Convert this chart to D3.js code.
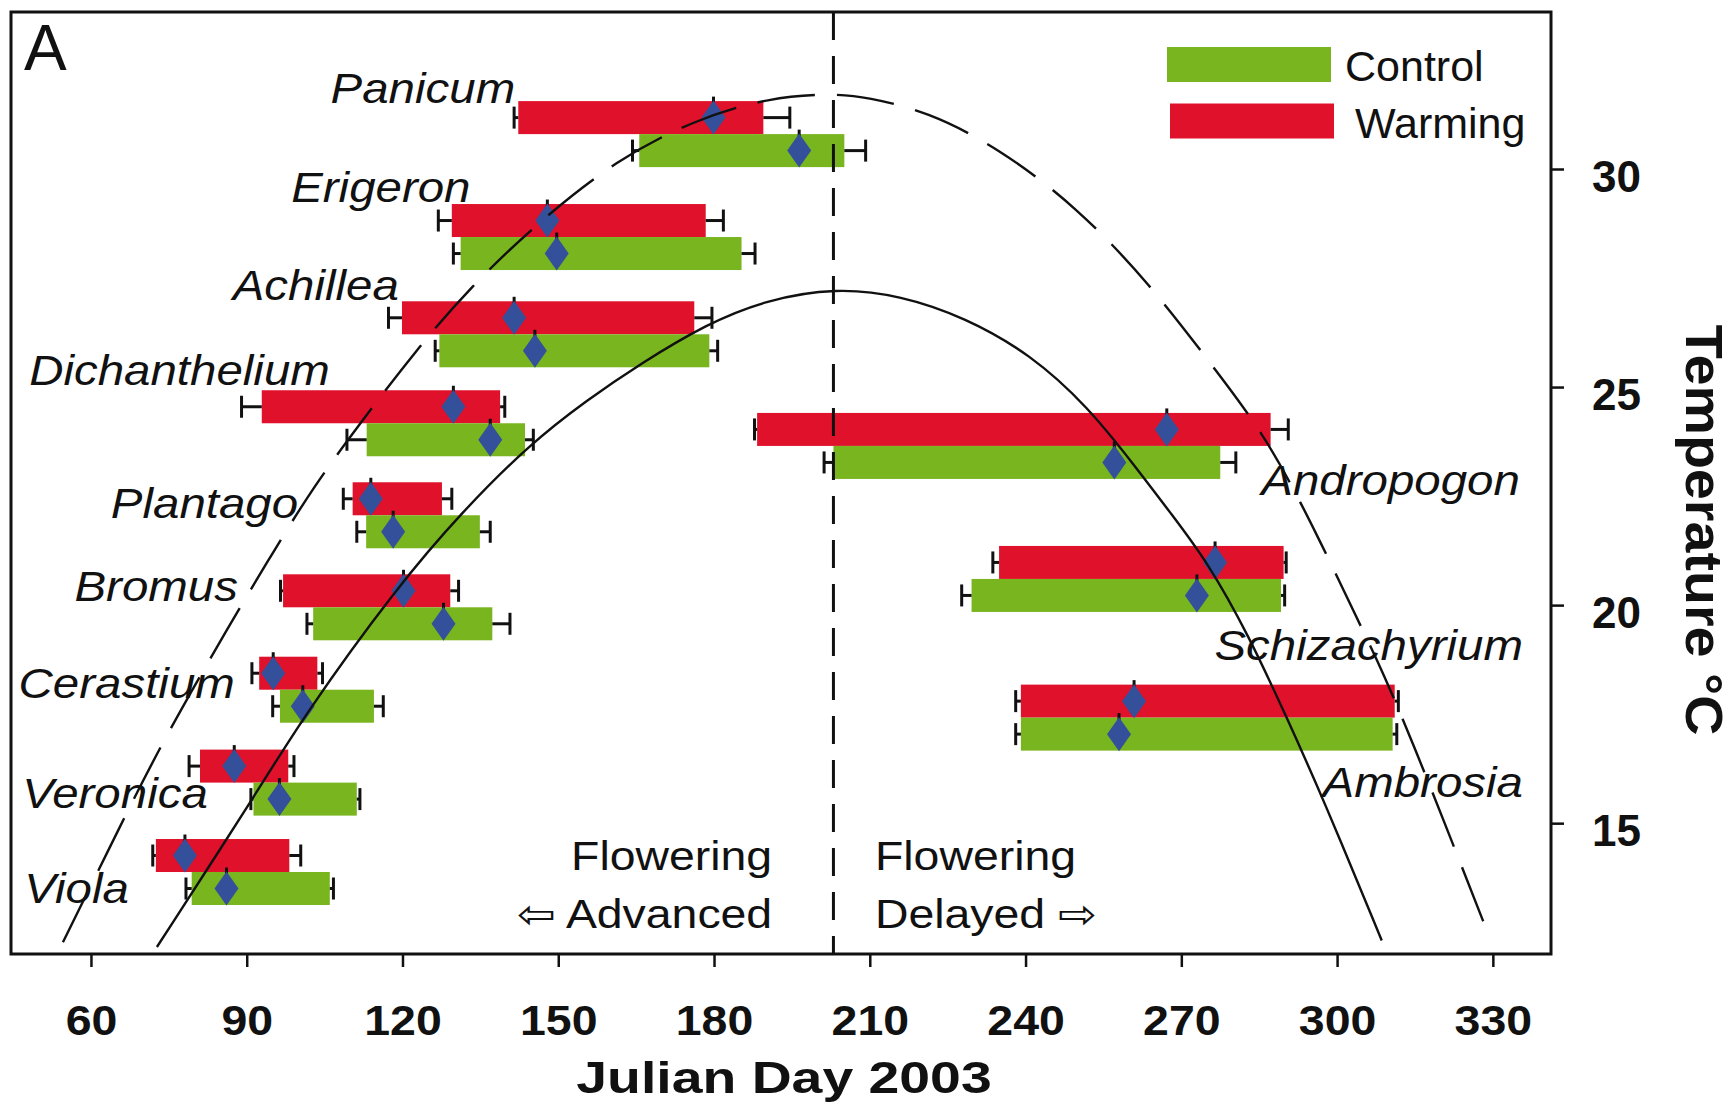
<!DOCTYPE html>
<html>
<head>
<meta charset="utf-8">
<script src="https://cdn.jsdelivr.net/npm/d3@7"></script>
<style>
  html, body { margin: 0; padding: 0; background: #fff; }
  svg { display: block; }
</style>
</head>
<body>
<svg id="chart" width="1735" height="1110"></svg>
<script>
// Flowering periods (Julian day 2003) of twelve prairie species under
// warming vs. control, drawn over seasonal temperature curves.

const species = ["Panicum", "Erigeron", "Achillea", "Dichanthelium", "Plantago", "Bromus",
                 "Cerastium", "Veronica", "Viola", "Andropogon", "Schizachyrium", "Ambrosia"];

// vertical placement of each species pair, in units of the temperature axis
const rowTemp = [30.80, 28.44, 26.21, 24.17, 22.06, 19.95, 18.06, 15.93, 13.88, 23.65, 20.60, 17.42];

// Warming treatment: flowering start / end, their error limits, and mean flowering day
const warmStart = [142.3, 129.5, 119.9, 92.9, 110.4, 97.0, 92.4, 81.0, 72.5, 188.3, 234.9, 239.1];
const warmEnd   = [189.5, 178.4, 176.2, 138.8, 127.6, 129.2, 103.6, 98.0, 98.2, 287.2, 289.7, 311.1];
const warmLow   = [141.5, 126.9, 117.3, 89.0, 108.6, 96.5, 91.0, 78.9, 71.9, 187.8, 233.7, 238.1];
const warmHigh  = [194.6, 181.8, 179.6, 139.7, 129.5, 130.8, 104.6, 99.1, 100.4, 290.6, 290.2, 311.8];
const warmMean  = [179.9, 147.9, 141.5, 129.8, 113.9, 120.2, 95.1, 87.6, 78.1, 267.2, 276.5, 260.9];

// Control treatment
const ctrlStart = [165.6, 131.2, 127.1, 113.1, 113.0, 102.8, 96.4, 91.3, 79.4, 203.0, 229.6, 239.1];
const ctrlEnd   = [205.1, 185.3, 179.1, 143.6, 134.9, 137.3, 114.5, 111.2, 106.0, 277.5, 289.2, 310.7];
const ctrlLow   = [164.3, 129.8, 126.3, 109.3, 111.2, 101.6, 95.0, 90.8, 78.3, 201.2, 227.7, 238.1];
const ctrlHigh  = [209.2, 187.9, 180.7, 145.2, 136.9, 140.7, 116.3, 111.8, 106.7, 280.5, 289.9, 311.5];
const ctrlMean  = [196.4, 149.7, 145.5, 136.9, 118.2, 127.9, 100.8, 96.3, 86.1, 257.1, 273.0, 258.0];

// Species name anchors (day, temperature) – names are right-aligned at these points
const labelDay  = [141.7, 133.1, 119.3, 106.0, 99.9, 88.3, 87.7, 82.5, 67.3, 335.2, 335.8, 335.8];
const labelTemp = [31.51, 29.24, 26.99, 25.04, 21.99, 20.09, 17.86, 15.34, 13.16, 22.52, 18.73, 15.59];

// Mean air temperature through the season (solid curve)
const meanDay  = [72.7, 91.0, 100.9, 118.9, 131.7, 144.6, 155.5, 166.0, 178.6, 190.0, 203.5,
                  216.0, 228.3, 241.0, 252.0, 261.0, 268.0, 275.0, 283.0, 290.0, 297.2, 308.6];
const meanTemp = [12.16, 15.52, 17.45, 20.41, 22.17, 23.70, 24.70, 25.55, 26.45, 27.00, 27.28,
                  27.10, 26.60, 25.75, 24.55, 23.20, 22.10, 21.00, 19.30, 17.50, 15.60, 12.31];

// Maximum air temperature through the season (dashed curve)
const maxDay  = [54.6, 65.7, 73.9, 86.8, 94.5, 102.8, 111.8, 122.1, 133.0, 146.5, 161.1, 176.0,
                 190.8, 203.0, 209.4, 221.0, 234.6, 249.9, 263.9, 275.9, 286.9, 297.0, 303.4,
                 309.0, 314.9, 320.0, 329.6];
const maxTemp = [12.27, 14.95, 16.90, 19.57, 21.10, 22.71, 24.16, 25.77, 27.29, 28.82, 30.20, 31.12,
                 31.65, 31.73, 31.65, 31.32, 30.50, 29.13, 27.37, 25.50, 23.78, 21.41, 19.80,
                 18.43, 16.74, 15.22, 12.31];

const peakDay = 203;   // day of peak temperature (dashed vertical divider)

const dayTicks  = [60, 90, 120, 150, 180, 210, 240, 270, 300, 330];
const tempTicks = [15, 20, 25, 30];

const legendItems = ["Control", "Warming"];

// ---------------------------------------------------------------- layout
const ink = "#111";
const colWarm = "#e0112b";
const colCtrl = "#79b51e";
const colMean = "#34509a";
const sansFont = "'Liberation Sans', Arial, Helvetica, sans-serif";

const plot = { left: 11, top: 12, right: 1551, bottom: 954 };
const barH = 33;

const svg = d3.select("#chart");

const x = d3.scaleLinear().domain([44.6, 341.2]).range([plot.left, plot.right]);
const y = d3.scaleLinear().domain([12, 33.6]).range([plot.bottom, plot.top]);

// text helper: optional horizontal stretch keeps the wide figure lettering
function addText(sel, px, py, str, o) {
  const sx = o.sx || 1;
  return sel.append("text")
    .attr("transform", `translate(${px},${py})` + (o.rotate ? ` rotate(${o.rotate})` : "") + ` scale(${sx},1)`)
    .attr("text-anchor", o.anchor || "start")
    .attr("font-family", o.family || sansFont)
    .attr("font-size", o.size)
    .attr("font-weight", o.weight || "normal")
    .attr("font-style", o.style || "normal")
    .attr("fill", ink)
    .text(str);
}

const rows = species.map((name, i) => ({
  name,
  t: rowTemp[i],
  warm: { s: warmStart[i], e: warmEnd[i], lo: warmLow[i], hi: warmHigh[i], m: warmMean[i] },
  ctrl: { s: ctrlStart[i], e: ctrlEnd[i], lo: ctrlLow[i], hi: ctrlHigh[i], m: ctrlMean[i] },
  lx: labelDay[i], ly: labelTemp[i]
}));

// one record per bar: warming sits above the row line, control below it
const bars = [];
rows.forEach(r => {
  bars.push({ ...r.warm, cy: y(r.t) - barH / 2, color: colWarm });
  bars.push({ ...r.ctrl, cy: y(r.t) + barH / 2, color: colCtrl });
});

const gBars = svg.append("g");

// flowering-period bars
gBars.selectAll("rect.bar").data(bars).join("rect")
  .attr("class", "bar")
  .attr("x", d => x(d.s))
  .attr("width", d => x(d.e) - x(d.s))
  .attr("y", d => d.cy - barH / 2)
  .attr("height", barH)
  .attr("fill", d => d.color);

// error whiskers at both ends of each period
const capH = 22;
const whiskers = [];
bars.forEach(b => {
  whiskers.push({ from: b.s, to: b.lo, cy: b.cy });
  whiskers.push({ from: b.e, to: b.hi, cy: b.cy });
});
const gW = svg.append("g").attr("stroke", ink).attr("stroke-width", 3).attr("fill", "none");
gW.selectAll("line.stem").data(whiskers).join("line")
  .attr("x1", d => x(d.from)).attr("x2", d => x(d.to))
  .attr("y1", d => d.cy).attr("y2", d => d.cy);
gW.selectAll("line.cap").data(whiskers).join("line")
  .attr("x1", d => x(d.to)).attr("x2", d => x(d.to))
  .attr("y1", d => d.cy - capH / 2).attr("y2", d => d.cy + capH / 2);

// mean flowering day: small error tick plus diamond
svg.append("g").selectAll("line").data(bars).join("line")
  .attr("x1", d => x(d.m)).attr("x2", d => x(d.m))
  .attr("y1", d => d.cy - 21).attr("y2", d => d.cy - 10)
  .attr("stroke", ink).attr("stroke-width", 3);

const dw = 12, dh = 17;
svg.append("g").selectAll("path").data(bars).join("path")
  .attr("d", d => {
    const cx = x(d.m), cy = d.cy;
    return `M${cx},${cy - dh}L${cx + dw},${cy}L${cx},${cy + dh}L${cx - dw},${cy}Z`;
  })
  .attr("fill", colMean);

// temperature curves
const line = d3.line().x(d => x(d[0])).y(d => y(d[1])).curve(d3.curveBasis);
svg.append("path")
  .datum(meanDay.map((d, i) => [d, meanTemp[i]]))
  .attr("d", line)
  .attr("fill", "none").attr("stroke", ink).attr("stroke-width", 2.4);
svg.append("path")
  .datum(maxDay.map((d, i) => [d, maxTemp[i]]))
  .attr("d", line)
  .attr("fill", "none").attr("stroke", ink).attr("stroke-width", 2.4)
  .attr("stroke-dasharray", "58,22");

// divider between advanced and delayed flowering
svg.append("line")
  .attr("x1", x(peakDay)).attr("x2", x(peakDay))
  .attr("y1", plot.top).attr("y2", plot.bottom)
  .attr("stroke", ink).attr("stroke-width", 3)
  .attr("stroke-dasharray", "28,16");

// species names
const gLab = svg.append("g");
rows.forEach(r => {
  addText(gLab, x(r.lx), y(r.ly), r.name, { size: 42, style: "italic", anchor: "end", sx: 1.13 });
});

// direction notes
addText(svg, x(191.2), y(13.92), "Flowering", { size: 40, anchor: "end", sx: 1.16 });
addText(svg, x(191.2), y(12.6), "\u21E6 Advanced", { size: 40, anchor: "end", sx: 1.16 });
addText(svg, x(211.0), y(13.92), "Flowering", { size: 40, anchor: "start", sx: 1.16 });
addText(svg, x(211.0), y(12.6), "Delayed \u21E8", { size: 40, anchor: "start", sx: 1.16 });

// panel letter
addText(svg, 24, 70, "A", { size: 64 });

// legend
const legendColors = [colCtrl, colWarm];
const gLeg = svg.append("g");
legendItems.forEach((name, i) => {
  gLeg.append("rect")
    .attr("x", 1167 + i * 3).attr("y", 47 + i * 56.5)
    .attr("width", 164).attr("height", 35)
    .attr("fill", legendColors[i]);
  addText(gLeg, 1345 + i * 10, 81 + i * 57, name, { size: 43 });
});

// frame
svg.append("rect")
  .attr("x", plot.left).attr("y", plot.top)
  .attr("width", plot.right - plot.left).attr("height", plot.bottom - plot.top)
  .attr("fill", "none").attr("stroke", ink).attr("stroke-width", 3);

// bottom axis: Julian day
const gx = svg.append("g")
  .attr("transform", `translate(0,${plot.bottom})`)
  .call(d3.axisBottom(x).tickValues(dayTicks).tickSize(13).tickPadding(37));
gx.select(".domain").remove();
gx.selectAll(".tick line").attr("stroke", ink).attr("stroke-width", 2.5);
gx.selectAll(".tick text")
  .attr("font-family", sansFont).attr("font-size", 43).attr("font-weight", "bold")
  .attr("fill", ink).attr("transform", "scale(1.08,1)");

// right axis: temperature
const gy = svg.append("g")
  .attr("transform", `translate(${plot.right},0)`)
  .call(d3.axisRight(y).tickValues(tempTicks).tickSize(13).tickPadding(28));
gy.select(".domain").remove();
gy.selectAll(".tick line").attr("stroke", ink).attr("stroke-width", 2.5);
gy.selectAll(".tick text")
  .attr("font-family", sansFont).attr("font-size", 44).attr("font-weight", "bold")
  .attr("fill", ink).attr("dy", "0.5em");

// axis titles
addText(svg, 784, 1093, "Julian Day 2003", { size: 45, weight: "bold", anchor: "middle", sx: 1.23 });
addText(svg, 1686, 530, "Temperature \u00B0C", { size: 52, weight: "bold", anchor: "middle", rotate: 90, sx: 1.07 });
</script>
</body>
</html>
